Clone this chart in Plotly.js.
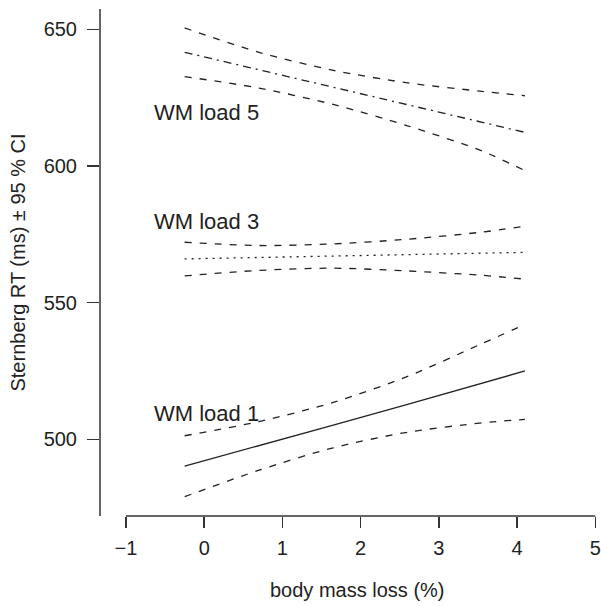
<!DOCTYPE html>
<html>
<head>
<meta charset="utf-8">
<script src="https://cdn.plot.ly/plotly-3.0.1.min.js"></script>
<style>html,body{margin:0;padding:0;background:#fff;}#chart{width:601px;height:606px;}</style>
</head>
<body>
<div id="chart"></div>
<script>
// body mass loss (%) grid
var bodyMassLoss = [-0.25, 0.7, 1.65, 2.6, 3.55, 4.1];

// WM load 5
var load5Mean  = [641.6, 635.2, 628.8, 622.4, 616.0, 612.3];
var load5Upper = [650.5, 641.6, 635.0, 630.4, 627.3, 625.7];
var load5Lower = [632.7, 628.5, 622.5, 614.7, 605.5, 598.3];

// WM load 3
var load3Mean  = [566.0, 566.5, 567.1, 567.6, 568.0, 568.4];
var load3Upper = [572.1, 570.9, 571.5, 573.2, 575.8, 578.0];
var load3Lower = [559.8, 561.8, 562.6, 561.6, 560.0, 558.6];

// WM load 1
var load1Mean  = [490.2, 497.6, 505.2, 512.8, 520.4, 525.0];
var load1Upper = [501.3, 506.5, 513.5, 523.0, 535.0, 542.0];
var load1Lower = [479.0, 488.7, 496.9, 502.6, 506.0, 507.3];

var xTicks = [-1, 0, 1, 2, 3, 4, 5];
var xTickText = ["\u22121", "0", "1", "2", "3", "4", "5"];
var yTicks = [500, 550, 600, 650];
var seriesLabels = ["WM load 5", "WM load 3", "WM load 1"];
var xTitle = "body mass loss (%)";
var yTitle = "Sternberg RT (ms) \u00b1 95 % CI";

var ink = "#222";
var FONT = "Liberation Sans, Arial, Helvetica, sans-serif";
var DASH = "7px,8px";

function tr(y, dash, shape) {
  return {x: bodyMassLoss, y: y, type: "scatter", mode: "lines",
          line: {color: ink, width: 1.3, dash: dash, shape: shape || "spline", smoothing: 0.8},
          hoverinfo: "skip", showlegend: false};
}

var data = [
  tr(load5Upper, DASH), tr(load5Mean, "8px,5px,2px,5px", "linear"), tr(load5Lower, DASH),
  tr(load3Upper, DASH), tr(load3Mean, "2px,5px", "linear"), tr(load3Lower, DASH),
  tr(load1Upper, DASH), tr(load1Mean, "solid", "linear"), tr(load1Lower, DASH)
];

var layout = {
  width: 601, height: 606,
  margin: {l: 100, r: 5, t: 9, b: 90},
  paper_bgcolor: "#fff", plot_bgcolor: "#fff",
  font: {family: FONT, color: ink, size: 20},
  xaxis: {
    range: [-1.332, 5.009], showgrid: false, zeroline: false, showline: false,
    tickmode: "array", tickvals: xTicks, ticktext: xTickText,
    ticks: "outside", ticklen: 11, tickwidth: 1.4, tickcolor: "#333",
    tickfont: {size: 20, color: ink}, ticklabelstandoff: 3
  },
  yaxis: {
    range: [471.94, 657.43], showgrid: false, zeroline: false, showline: false,
    tickmode: "array", tickvals: yTicks,
    ticks: "outside", ticklen: 12, tickwidth: 1.4, tickcolor: "#333",
    tickfont: {size: 20, color: ink}, ticklabelstandoff: 6,
    title: {text: yTitle, font: {size: 20, color: ink}, standoff: 12}
  },
  shapes: [
    {type: "line", xref: "paper", yref: "paper", x0: 0, x1: 0, y0: 0, y1: 1,
     line: {color: "#333", width: 1.5}},
    {type: "line", xref: "x", yref: "paper", x0: xTicks[0], x1: xTicks[xTicks.length-1], y0: 0, y1: 0,
     line: {color: "#333", width: 1.5}}
  ],
  annotations: [
    {text: seriesLabels[0], x: -0.67, y: 619.5, xref: "x", yref: "y", xanchor: "left", yanchor: "middle", showarrow: false, font: {size: 22, color: ink}},
    {text: seriesLabels[1], x: -0.67, y: 579.6, xref: "x", yref: "y", xanchor: "left", yanchor: "middle", showarrow: false, font: {size: 22, color: ink}},
    {text: seriesLabels[2], x: -0.67, y: 509.5, xref: "x", yref: "y", xanchor: "left", yanchor: "middle", showarrow: false, font: {size: 22, color: ink}},
    {text: xTitle, x: 1.966, y: -0.146, xref: "x", yref: "paper", xanchor: "center", yanchor: "middle", showarrow: false, font: {size: 20, color: ink}}
  ]
};

Plotly.newPlot("chart", data, layout, {displayModeBar: false, staticPlot: true});
</script>
</body>
</html>
